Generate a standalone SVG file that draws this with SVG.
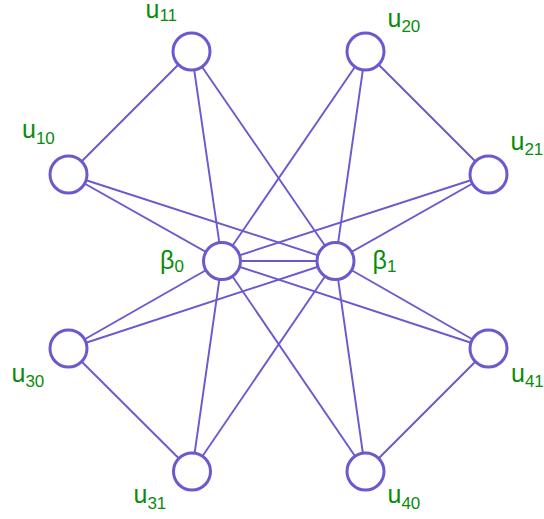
<svg xmlns="http://www.w3.org/2000/svg" width="544" height="519" viewBox="0 0 544 519">
<style>
.e{stroke:#6a5acd;stroke-width:1.9;fill:none}
.n{fill:#fff;stroke:#6a5acd;stroke-width:3}
.l{font-family:"Liberation Sans",Arial,sans-serif;font-size:25px;fill:#0a8c0a}
.s{font-size:17px}
</style>
<rect width="544" height="519" fill="#fff"/>
<g id="connectors">
<line class="e" x1="68.5" y1="174.5" x2="191.5" y2="51.5"/>
<line class="e" x1="365.5" y1="51.5" x2="488.5" y2="174.5"/>
<line class="e" x1="68.5" y1="348.5" x2="192" y2="471.5"/>
<line class="e" x1="365.5" y1="471.5" x2="488.5" y2="348.5"/>
<line class="e" x1="222" y1="261" x2="335.5" y2="261"/>
<line class="e" x1="191.5" y1="51.5" x2="222" y2="261"/>
<line class="e" x1="191.5" y1="51.5" x2="335.5" y2="261"/>
<line class="e" x1="68.5" y1="174.5" x2="222" y2="261"/>
<line class="e" x1="68.5" y1="174.5" x2="335.5" y2="261"/>
<line class="e" x1="365.5" y1="51.5" x2="222" y2="261"/>
<line class="e" x1="365.5" y1="51.5" x2="335.5" y2="261"/>
<line class="e" x1="488.5" y1="174.5" x2="222" y2="261"/>
<line class="e" x1="488.5" y1="174.5" x2="335.5" y2="261"/>
<line class="e" x1="68.5" y1="348.5" x2="222" y2="261"/>
<line class="e" x1="68.5" y1="348.5" x2="335.5" y2="261"/>
<line class="e" x1="192" y1="471.5" x2="222" y2="261"/>
<line class="e" x1="192" y1="471.5" x2="335.5" y2="261"/>
<line class="e" x1="365.5" y1="471.5" x2="222" y2="261"/>
<line class="e" x1="365.5" y1="471.5" x2="335.5" y2="261"/>
<line class="e" x1="488.5" y1="348.5" x2="222" y2="261"/>
<line class="e" x1="488.5" y1="348.5" x2="335.5" y2="261"/>
</g>
<g id="u11"><circle class="n" cx="191.5" cy="51.5" r="18.5"/><text class="l" x="145.5" y="18">u<tspan class="s" dy="3">11</tspan></text></g>
<g id="u20"><circle class="n" cx="365.5" cy="51.5" r="18.5"/><text class="l" x="387.5" y="27">u<tspan class="s" dy="5">20</tspan></text></g>
<g id="u10"><circle class="n" cx="68.5" cy="174.5" r="18.5"/><text class="l" x="22" y="138">u<tspan class="s" dy="6">10</tspan></text></g>
<g id="u21"><circle class="n" cx="488.5" cy="174.5" r="18.5"/><text class="l" x="510.5" y="150">u<tspan class="s" dy="5">21</tspan></text></g>
<g id="b0"><circle class="n" cx="222" cy="261" r="18.5"/><text class="l" x="160" y="268.5">β<tspan class="s" dy="3.5">0</tspan></text></g>
<g id="b1"><circle class="n" cx="335.5" cy="261" r="18.5"/><text class="l" x="372.5" y="268.5">β<tspan class="s" dy="3.5">1</tspan></text></g>
<g id="u30"><circle class="n" cx="68.5" cy="348.5" r="18.5"/><text class="l" x="11.5" y="382">u<tspan class="s" dy="5">30</tspan></text></g>
<g id="u41"><circle class="n" cx="488.5" cy="348.5" r="18.5"/><text class="l" x="511" y="382">u<tspan class="s" dy="5">41</tspan></text></g>
<g id="u31"><circle class="n" cx="192" cy="471.5" r="18.5"/><text class="l" x="133.5" y="503">u<tspan class="s" dy="6">31</tspan></text></g>
<g id="u40"><circle class="n" cx="365.5" cy="471.5" r="18.5"/><text class="l" x="387.5" y="503">u<tspan class="s" dy="6">40</tspan></text></g>
</svg>
